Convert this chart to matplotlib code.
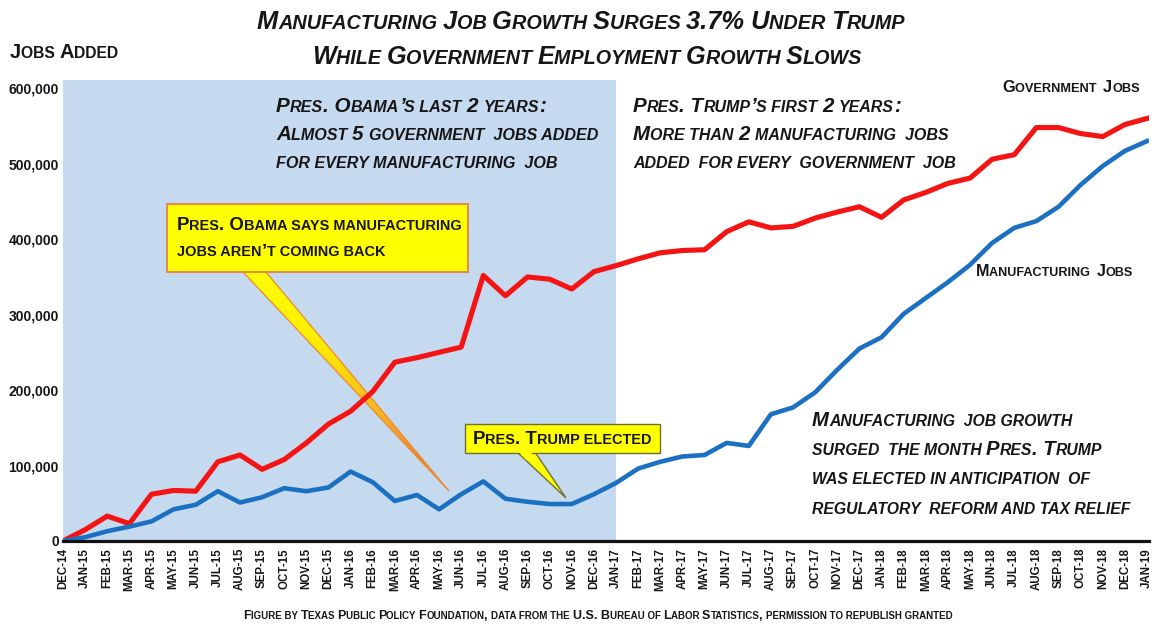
import matplotlib
matplotlib.use('Agg')
import matplotlib.pyplot as plt
import numpy as np
from matplotlib.offsetbox import TextArea, HPacker, AnnotationBbox
from matplotlib.patches import Polygon, Rectangle
from matplotlib.colors import to_rgb

# ---------------- data ----------------
months = ['Dec-14', 'Jan-15', 'Feb-15', 'Mar-15', 'Apr-15', 'May-15', 'Jun-15', 'Jul-15',
          'Aug-15', 'Sep-15', 'Oct-15', 'Nov-15', 'Dec-15', 'Jan-16', 'Feb-16', 'Mar-16',
          'Apr-16', 'May-16', 'Jun-16', 'Jul-16', 'Aug-16', 'Sep-16', 'Oct-16', 'Nov-16',
          'Dec-16', 'Jan-17', 'Feb-17', 'Mar-17', 'Apr-17', 'May-17', 'Jun-17', 'Jul-17',
          'Aug-17', 'Sep-17', 'Oct-17', 'Nov-17', 'Dec-17', 'Jan-18', 'Feb-18', 'Mar-18',
          'Apr-18', 'May-18', 'Jun-18', 'Jul-18', 'Aug-18', 'Sep-18', 'Oct-18', 'Nov-18',
          'Dec-18', 'Jan-19']

government = [0, 15000, 33000, 23000, 62000, 67000, 66000, 105000,
              114000, 95000, 108000, 130000, 155000, 172000, 198000, 237000,
              243000, 250000, 257000, 352000, 325000, 350000, 347000, 334000,
              357000, 365000, 374000, 382000, 385000, 386000, 410000, 423000,
              415000, 417000, 428000, 436000, 443000, 429000, 452000, 462000,
              474000, 481000, 506000, 512000, 548000, 548000, 540000, 536000,
              552000, 560000]

manufacturing = [0, 5000, 13000, 19000, 26000, 42000, 48000, 66000,
                 51000, 58000, 70000, 66000, 71000, 92000, 78000, 53000,
                 61000, 42000, 62000, 79000, 56000, 52000, 49000, 49000,
                 62000, 77000, 96000, 105000, 112000, 114000, 130000, 126000,
                 168000, 177000, 197000, 227000, 255000, 270000, 301000, 322000,
                 343000, 366000, 395000, 415000, 424000, 443000, 472000, 497000,
                 517000, 530000]

y_ticks = [0, 100000, 200000, 300000, 400000, 500000, 600000]
y_tick_labels = ['0', '100,000', '200,000', '300,000', '400,000', '500,000', '600,000']

obama_end_index = 25   # shading: Obama's last 2 years (Dec-14 .. Jan-17)

# ---------------- figure ----------------
W, H = 1162, 627
FONT = ['Liberation Sans', 'DejaVu Sans']
plt.rcParams['font.family'] = FONT
TXT = '#161616'

fig = plt.figure(figsize=(W / 100, H / 100), dpi=100)
L, R, T, B = 63, 1149, 80, 541
ax = fig.add_axes([L / W, 1 - B / H, (R - L) / W, (B - T) / H])

x = np.arange(len(months))
ax.axvspan(0, obama_end_index, color='#C6DAEF', lw=0, zorder=0)
ax.plot(x, government, color='#F41414', lw=3.7, zorder=3, solid_joinstyle='round')
ax.plot(x, manufacturing, color='#1C70C2', lw=3.3, zorder=3, solid_joinstyle='round')

ax.set_xlim(0, 49 * (R - L) / 1084)
ax.set_ylim(0, 611000)

for s in ['top', 'right', 'left']:
    ax.spines[s].set_visible(False)
ax.spines['bottom'].set_linewidth(2.3)
ax.spines['bottom'].set_color('#111111')
ax.spines['bottom'].set_zorder(4)

ax.set_xticks(x)
ax.set_xticklabels([m.upper() for m in months], rotation=90, fontsize=8.3,
                   fontweight='bold', color=TXT)
ax.set_yticks(y_ticks)
ax.set_yticklabels(y_tick_labels, fontsize=10, fontweight='bold', color=TXT)
ax.tick_params(axis='x', length=0, pad=5)
ax.tick_params(axis='y', length=0, pad=3)


# ---------------- helpers ----------------
def fp(px, py):
    return (px / W, 1 - py / H)


def ap(px, py):
    return ((px - L) / (R - L), (B - py) / (B - T))


def sc_line(text, size, ratio=0.78, italic=False, color=TXT):
    props = dict(family=FONT, weight='bold',
                 style='italic' if italic else 'normal', color=color)
    runs = []
    for ch in text:
        small = ch.islower()
        if ch == ' ' and runs:
            small = runs[-1][1]
        if runs and runs[-1][1] == small:
            runs[-1][0] += ch
        else:
            runs.append([ch, small])
    kids = [TextArea(s.upper(), textprops=dict(size=size * ratio if sm else size, **props))
            for s, sm in runs]
    return HPacker(children=kids, align='baseline', pad=0, sep=0)


def place(text, px, py, size, ha=0.0, italic=False, ratio=0.78, zorder=10):
    box = sc_line(text, size, ratio=ratio, italic=italic)
    ab = AnnotationBbox(box, fp(px, py), xycoords='figure fraction',
                        box_alignment=(ha, 0.5), frameon=False, pad=0,
                        zorder=zorder, annotation_clip=False)
    fig.add_artist(ab)


# ---------------- titles ----------------
place('Manufacturing Job Growth Surges 3.7% Under Trump', 581, 22, 18.4, ha=0.5, italic=True)
place('While Government Employment Growth Slows', 587, 57, 18.2, ha=0.5, italic=True)
place('Jobs Added', 10, 52, 14.4, ha=0.0)

# ---------------- annotations ----------------
for i, line in enumerate(['Pres. Obama’s last 2 years:',
                          'Almost 5 government  jobs added',
                          'for every manufacturing  job']):
    place(line, 276, 106 + i * 28.5, 14.9, italic=True)

for i, line in enumerate(['Pres. Trump’s first 2 years:',
                          'More than 2 manufacturing  jobs',
                          'added  for every  government  job']):
    place(line, 633, 106 + i * 28.5, 14.8, italic=True)

for i, line in enumerate(['Manufacturing  job growth',
                          'surged  the month Pres. Trump',
                          'was elected in anticipation  of',
                          'regulatory  reform and tax relief']):
    place(line, 812, 420 + i * 29.7, 14.6, italic=True)

place('Government  Jobs', 1140, 88, 11.8, ha=1.0)
place('Manufacturing  Jobs', 1133, 272, 11.6, ha=1.0)

place('Figure by Texas Public Policy Foundation, data from the U.S. Bureau of Labor '
      'Statistics, permission to republish granted', 598, 616, 9.0, ha=0.5)

# ---------------- Obama callout ----------------
bl, br, tip = np.array(ap(243, 272)), np.array(ap(266, 272)), np.array(ap(449, 491))
c_stops = [to_rgb('#FFFF00'), to_rgb('#FFEC00'), to_rgb('#F8B020'), to_rgb('#E8553A')]
n = 40
for k in range(n):
    t0, t1 = k / n, (k + 1) / n
    pts = [bl + (tip - bl) * t0, br + (tip - br) * t0,
           br + (tip - br) * t1, bl + (tip - bl) * t1]
    tm = (t0 + t1) / 2
    seg = tm * (len(c_stops) - 1)
    j = min(int(seg), len(c_stops) - 2)
    f = seg - j
    col = tuple((1 - f) * a + f * b for a, b in zip(c_stops[j], c_stops[j + 1]))
    ax.add_patch(Polygon(pts, closed=True, transform=ax.transAxes, fc=col, ec=col,
                         lw=0.3, zorder=2, clip_on=False))
ax.add_patch(Polygon([bl, tip, br], closed=False, transform=ax.transAxes, fc='none',
                     ec='#E9913A', lw=1.0, zorder=2, clip_on=False))
x0, y0 = ap(167, 272)
x1, y1 = ap(468, 204)
ax.add_patch(Rectangle((x0, y0), x1 - x0, y1 - y0, transform=ax.transAxes,
                       fc='#FFFF00', ec='#E8804A', lw=1.3, zorder=5, clip_on=False))
place('Pres. Obama says manufacturing', 177, 226, 13.4)
place('jobs aren’t coming back', 177, 252, 13.4)

# ---------------- Trump callout ----------------
bl, br, tip = ap(517, 452), ap(535, 452), ap(566, 498)
ax.add_patch(Polygon([bl, tip, br], closed=True, transform=ax.transAxes, fc='#FFFF00',
                     ec='#6E6E3C', lw=1.0, zorder=5, clip_on=False))
x0, y0 = ap(465, 453)
x1, y1 = ap(660, 424)
ax.add_patch(Rectangle((x0, y0), x1 - x0, y1 - y0, transform=ax.transAxes,
                       fc='#FFFF00', ec='#6E6E3C', lw=1.0, zorder=5, clip_on=False))
ax.add_patch(Polygon([ap(518.5, 451.5), ap(533.5, 451.5), ap(526, 460)], closed=True,
                     transform=ax.transAxes, fc='#FFFF00', ec='none', zorder=6,
                     clip_on=False))
place('Pres. Trump elected', 562, 439, 13.4, ha=0.5)

fig.savefig('out.png', dpi=100, facecolor='white')
